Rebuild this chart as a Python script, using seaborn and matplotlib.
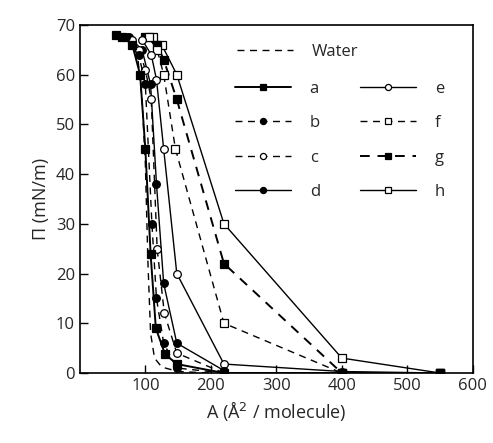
import numpy as np
import pandas as pd
import seaborn as sns
import matplotlib.pyplot as plt

# surface pressure isotherms
water_x = [55, 75, 88, 95, 100, 104, 108, 114, 125, 150, 200]
water_y = [68, 67, 64, 55, 42, 22, 8, 3, 1.2, 0.3, 0]

a_x = [550, 400, 220, 148, 130, 116, 108, 100, 92, 80, 65, 55]
a_y = [0, 0, 0, 1.8, 3.8, 9, 24, 45, 60, 66, 67.5, 68]

b_x = [220, 148, 128, 117, 110, 100, 90, 70]
b_y = [0, 1, 6, 15, 30, 58, 64, 67.5]

c_x = [220, 148, 129, 118, 109, 100, 90, 80]
c_y = [0, 4, 12, 25, 55, 61, 65, 67]

d_x = [220, 148, 128, 117, 108, 95, 75]
d_y = [0.5, 6, 18, 38, 58, 65, 67.5]

e_x = [550, 400, 220, 148, 128, 117, 109, 95]
e_y = [0, 0.3, 1.8, 20, 45, 59, 64, 67]

f_x = [550, 400, 220, 146, 128, 118, 105]
f_y = [0, 0, 10, 45, 60, 65, 67.5]

g_x = [550, 400, 220, 148, 128, 118, 100]
g_y = [0, 0, 22, 55, 63, 66, 67.5]

h_x = [550, 400, 220, 148, 125, 112]
h_y = [0, 3, 30, 60, 66, 67.5]

x_ticks = [100, 200, 300, 400, 500, 600]
y_ticks = [0, 10, 20, 30, 40, 50, 60, 70]

sns.set_style("ticks")
plt.rcParams['font.family'] = ['Open Sans', 'DejaVu Sans']

fig = plt.figure(figsize=(4.93, 4.43), dpi=100)
ax = fig.add_axes([0.162, 0.158, 0.797, 0.786])

dash = (5, 4)
# name, x, y, linestyle, marker, filled, linewidth
series = [
    ("h", h_x, h_y, "-", "s", False, 1.0),
    ("g", g_x, g_y, "--", "s", True, 1.4),
    ("f", f_x, f_y, "--", "s", False, 1.0),
    ("e", e_x, e_y, "-", "o", False, 1.0),
    ("d", d_x, d_y, "-", "o", True, 1.0),
    ("c", c_x, c_y, "--", "o", False, 1.0),
    ("b", b_x, b_y, "--", "o", True, 1.0),
    ("a", a_x, a_y, "-", "s", True, 1.4),
]

sns.lineplot(x=water_x, y=water_y, ax=ax, sort=False, estimator=None,
             color="black", lw=1.0, label="Water")
ax.lines[-1].set_dashes(dash)

for name, xs, ys, ls, mk, filled, lw in series:
    df = pd.DataFrame({"A": xs, "P": ys})
    sns.lineplot(data=df, x="A", y="P", ax=ax, sort=False, estimator=None,
                 color="black", lw=lw, marker=mk,
                 markersize=6 if mk == "s" else 5.5,
                 markerfacecolor="black" if filled else "white",
                 markeredgecolor="black", markeredgewidth=0.9,
                 label=name)
    if ls == "--":
        ax.lines[-1].set_dashes(dash)

handles, labels = ax.get_legend_handles_labels()
if ax.get_legend():
    ax.get_legend().remove()
order = ["a", "b", "c", "d", "e", "f", "g", "h"]
hmap = dict(zip(labels, handles))

leg1 = ax.legend([hmap["Water"]], ["Water"], loc="upper left",
                 bbox_to_anchor=(0.399, 0.945), frameon=False, fontsize=12,
                 handlelength=3.4, handletextpad=1.1, borderpad=0, borderaxespad=0)
ax.add_artist(leg1)
ax.legend([hmap[k] for k in order], order, loc="upper left", ncol=2,
          bbox_to_anchor=(0.394, 0.839), frameon=False, fontsize=12,
          handlelength=3.4, handletextpad=1.1, borderpad=0, borderaxespad=0,
          labelspacing=1.1, columnspacing=2.4, markerscale=0.8)

ax.set_xlim(0, 600)
ax.set_ylim(0, 70)
ax.set_xticks(x_ticks)
ax.set_yticks(y_ticks)
ax.tick_params(direction="in", length=6, width=1, labelsize=12, color="black")
for s in ax.spines.values():
    s.set_linewidth(1.2)
    s.set_color("black")

ax.set_xlabel("A (Å$^2$ / molecule)", fontsize=13)
ax.set_ylabel("Π (mN/m)", fontsize=13)

fig.savefig("out.png", dpi=100)
